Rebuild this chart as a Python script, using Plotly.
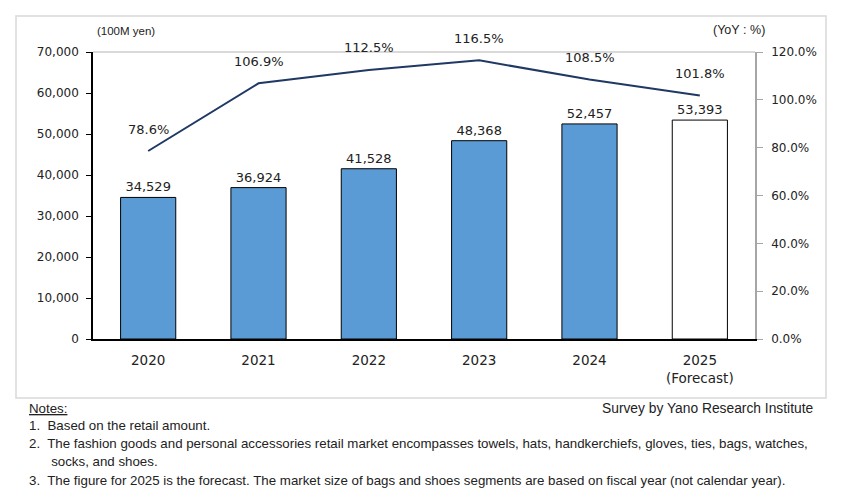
import plotly.graph_objects as go

years = ["2020", "2021", "2022", "2023", "2024", "2025"]
tick_labels = ["2020", "2021", "2022", "2023", "2024", "2025<br>(Forecast)"]
market_size = [34529, 36924, 41528, 48368, 52457, 53393]
yoy = [78.6, 106.9, 112.5, 116.5, 108.5, 101.8]
is_forecast = [False, False, False, False, False, True]

notes = [
    "1.  Based on the retail amount.",
    "2.  The fashion goods and personal accessories retail market encompasses towels, hats, handkerchiefs, gloves, ties, bags, watches,",
    "      socks, and shoes.",
    "3.  The figure for 2025 is the forecast. The market size of bags and shoes segments are based on fiscal year (not calendar year).",
]

OFF = 8  # page body margin
W, H = 842 - OFF, 502 - OFF
L, R, T, B = 93 - OFF, 755 - OFF, 52 - OFF, 339 - OFF
pw, ph = R - L, B - T


def px(x):
    return (x - OFF - L) / pw


def py(y):
    return (B - (y - OFF)) / ph


LABEL_FONT = "DejaVu Sans"
NOTE_FONT = "Liberation Sans"
TXT = "#222222"

bar_colors = ["#FFFFFF" if f else "#5B9BD5" for f in is_forecast]
idx = list(range(len(years)))

fig = go.Figure()
fig.add_trace(go.Bar(
    x=idx, y=market_size,
    marker=dict(color=bar_colors, line=dict(color="#000000", width=1)),
    text=[f"{v:,}" for v in market_size],
    textposition="outside",
    textfont=dict(family=LABEL_FONT, size=13, color=TXT),
    cliponaxis=False,
    width=0.5,
    yaxis="y",
))
fig.add_trace(go.Scatter(
    x=idx, y=yoy, mode="lines",
    line=dict(color="#1F3864", width=2),
    yaxis="y2",
))

annotations = []
for i, v in zip(idx, yoy):
    annotations.append(dict(
        x=i, y=v, xref="x", yref="y2", text=f"{v:.1f}%",
        showarrow=False, yshift=22,
        font=dict(family=LABEL_FONT, size=13, color=TXT),
    ))

annotations.append(dict(x=px(95), y=py(31), xref="paper", yref="paper",
                        text="(100M yen)", showarrow=False, xanchor="left", yanchor="middle",
                        font=dict(family=NOTE_FONT, size=11.5, color=TXT)))
annotations.append(dict(x=px(767), y=py(30), xref="paper", yref="paper",
                        text="(YoY\u00a0:\u00a0%)", showarrow=False, xanchor="right", yanchor="middle",
                        font=dict(family=NOTE_FONT, size=12.5, color=TXT)))
annotations.append(dict(x=px(27), y=py(408), xref="paper", yref="paper",
                        text="<u>Notes:</u>", showarrow=False, xanchor="left", yanchor="middle",
                        font=dict(family=NOTE_FONT, size=13.3, color=TXT)))
annotations.append(dict(x=px(815), y=py(408), xref="paper", yref="paper",
                        text="Survey by Yano Research Institute", showarrow=False,
                        xanchor="right", yanchor="middle",
                        font=dict(family=NOTE_FONT, size=13.8, color=TXT)))
note_y = [425, 443, 461, 480]
for t, yy in zip(notes, note_y):
    annotations.append(dict(x=px(27), y=py(yy), xref="paper", yref="paper",
                            text=t, showarrow=False, xanchor="left", yanchor="middle",
                            font=dict(family=NOTE_FONT, size=13.3, color=TXT)))

shapes = [
    dict(type="rect", xref="paper", yref="paper",
         x0=px(16), x1=px(826), y0=py(398), y1=py(16),
         line=dict(color="#D9D9D9", width=1.5), fillcolor="rgba(0,0,0,0)", layer="below"),
    dict(type="line", xref="paper", yref="paper",
         x0=0, x1=1, y0=1, y1=1,
         line=dict(color="#D9D9D9", width=2), layer="below"),
]

fig.update_layout(
    width=W, height=H,
    margin=dict(l=L, r=W - R, t=T, b=H - B, pad=0),
    paper_bgcolor="white", plot_bgcolor="white",
    showlegend=False,
    annotations=annotations,
    shapes=shapes,
    xaxis=dict(
        range=[-0.5, 5.5], tickvals=idx, ticktext=tick_labels,
        showline=True, linecolor="#000000", linewidth=1.5,
        ticks="", showgrid=False, zeroline=False,
        ticklabelstandoff=8,
        tickfont=dict(family=LABEL_FONT, size=13.5, color=TXT),
    ),
    yaxis=dict(
        range=[0, 70000], dtick=10000, tickformat=",",
        showline=True, linecolor="#000000", linewidth=1.5,
        ticks="outside", ticklen=5, tickcolor="#000000",
        ticklabelstandoff=5,
        showgrid=False, zeroline=False,
        tickfont=dict(family=LABEL_FONT, size=12, color=TXT),
    ),
    yaxis2=dict(
        range=[0, 120], dtick=20, tickformat=".1f", ticksuffix="%",
        overlaying="y", side="right",
        showline=True, linecolor="#A6A6A6", linewidth=1.5,
        ticks="outside", ticklen=6, tickcolor="#A6A6A6",
        ticklabelstandoff=6,
        showgrid=False, zeroline=False,
        tickfont=dict(family=LABEL_FONT, size=12, color=TXT),
    ),
)

fig.write_html("out.html")
